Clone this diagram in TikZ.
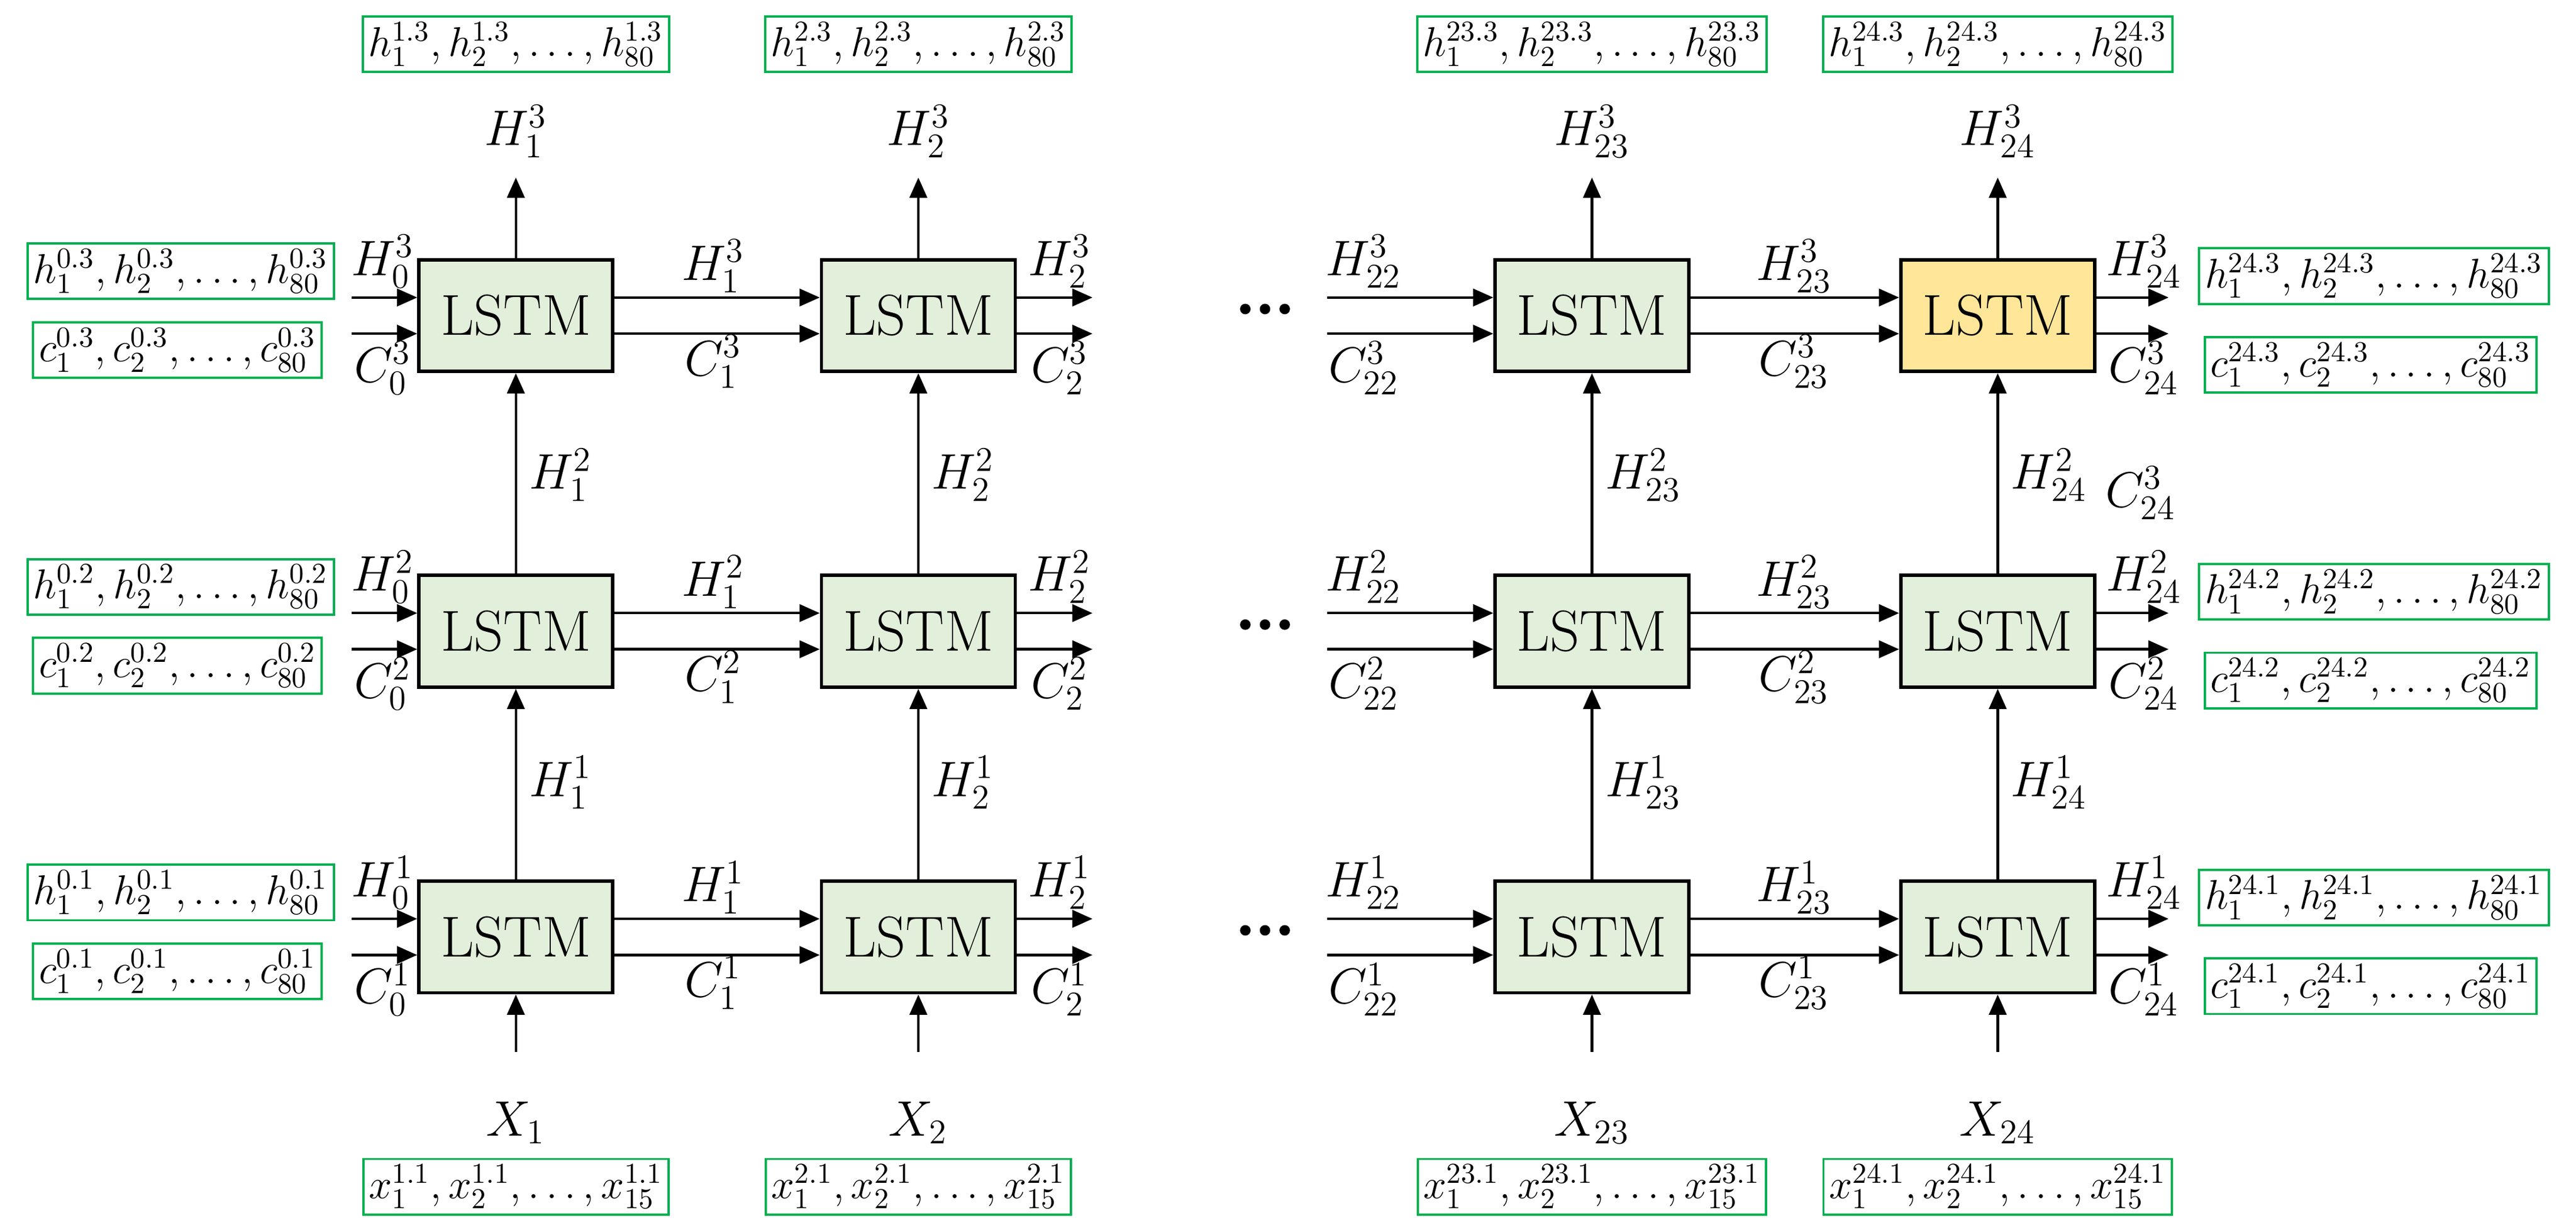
\documentclass[tikz,border=0pt]{standalone}
\usetikzlibrary{arrows.meta}
\definecolor{bfill}{HTML}{E2EFDA}
\definecolor{yfill}{HTML}{FFE699}
\definecolor{gb}{HTML}{00B050}
\begin{document}
\begin{tikzpicture}[x=0.02cm,y=-0.02cm,
 lstm/.style={draw,line width=1.2pt,fill=bfill,minimum width=2.36cm,minimum height=1.36cm,inner sep=0pt,font=\fontsize{20}{22}\selectfont},
 gbox/.style={draw=gb,line width=0.8pt,inner sep=2pt,font=\fontsize{14}{16}\selectfont},
 lab/.style={font=\fontsize{18}{20}\selectfont,inner sep=1pt},
 arr/.style={-{Triangle[length=7pt,width=6pt]},line width=0.9pt}]
\useasboundingbox (0,0) rectangle (1568,748);
% boxes
\foreach \c/\x in {1/314,2/559,23/969,24/1216}{
 \foreach \r/\y in {3/192,2/384,1/570}{
  \node[lstm] (b\c-\r) at (\x,\y) {LSTM};
 }}
\node[lstm,fill=yfill] at (b24-3) {LSTM};
\foreach \c/\x in {1/314,2/559,23/969,24/1216}{
 \coordinate (top\c) at (\x,108);
 \coordinate (bot\c) at (\x,640);
 \node[lab] (X\c) at (\x,683) {$X_{\c}$};
 \node[lab] (T\c) at (\x,80) {$H^3_{\c}$};
 \draw[arr] (b\c-3.north) -- (top\c);
 \draw[arr] (b\c-2.north) -- (b\c-3.south);
 \draw[arr] (b\c-1.north) -- (b\c-2.south);
 \draw[arr] (bot\c) -- (b\c-1.south);
 \node[lab,anchor=west] at (\x+6,289) {$H^2_{\c}$};
 \node[lab,anchor=west] at (\x+6,476) {$H^1_{\c}$};
}
\node[lab] at (1303,300) {$C^3_{24}$};
\foreach \r/\y in {3/192,2/384,1/570}{
 \coordinate (li\r h) at (214,\y-11); \coordinate (li\r c) at (214,\y+11);
 \draw[arr] (li\r h) -- (b1-\r.west |- li\r h);
 \draw[arr] (li\r c) -- (b1-\r.west |- li\r c);
 \node[lab] at (233,\y-33) {$H^\r_0$};
 \node[lab] at (233,\y+32) {$C^\r_0$};
 \draw[arr] (b1-\r.east |- li\r h) -- (b2-\r.west |- li\r h);
 \draw[arr] (b1-\r.east |- li\r c) -- (b2-\r.west |- li\r c);
 \node[lab] at (434,\y-30) {$H^\r_1$};
 \node[lab] at (434,\y+28) {$C^\r_1$};
 \coordinate (o2\r h) at (665,\y-11); \coordinate (o2\r c) at (665,\y+11);
 \draw[arr] (b2-\r.east |- o2\r h) -- (o2\r h);
 \draw[arr] (b2-\r.east |- o2\r c) -- (o2\r c);
 \node[lab] at (645,\y-33) {$H^\r_2$};
 \node[lab] at (645,\y+32) {$C^\r_2$};
 \foreach \d in {-12,0,12}{\fill (770+\d,\y-4) circle (3.2);}
 \coordinate (i23\r h) at (808,\y-11); \coordinate (i23\r c) at (808,\y+11);
 \draw[arr] (i23\r h) -- (b23-\r.west |- i23\r h);
 \draw[arr] (i23\r c) -- (b23-\r.west |- i23\r c);
 \node[lab] at (830,\y-33) {$H^\r_{22}$};
 \node[lab] at (830,\y+32) {$C^\r_{22}$};
 \draw[arr] (b23-\r.east |- i23\r h) -- (b24-\r.west |- i23\r h);
 \draw[arr] (b23-\r.east |- i23\r c) -- (b24-\r.west |- i23\r c);
 \node[lab] at (1092,\y-30) {$H^\r_{23}$};
 \node[lab] at (1092,\y+28) {$C^\r_{23}$};
 \coordinate (o24\r h) at (1320,\y-11); \coordinate (o24\r c) at (1320,\y+11);
 \draw[arr] (b24-\r.east |- o24\r h) -- (o24\r h);
 \draw[arr] (b24-\r.east |- o24\r c) -- (o24\r c);
 \node[lab] at (1305,\y-33) {$H^\r_{24}$};
 \node[lab] at (1305,\y+32) {$C^\r_{24}$};
 \node[gbox] (lh\r) at (110,\y-27) {$h_1^{0.\r},h_2^{0.\r},\dots,h_{80}^{0.\r}$};
 \node[gbox] (lc\r) at (108,\y+21) {$c_1^{0.\r},c_2^{0.\r},\dots,c_{80}^{0.\r}$};
 \node[gbox] (rh\r) at (1445,\y-24) {$h_1^{24.\r},h_2^{24.\r},\dots,h_{80}^{24.\r}$};
 \node[gbox] (rc\r) at (1443,\y+30) {$c_1^{24.\r},c_2^{24.\r},\dots,c_{80}^{24.\r}$};
}
\foreach \c/\x in {1/314,2/559,23/969,24/1216}{
 \node[gbox] (tg\c) at (\x,27) {$h_1^{\c.3},h_2^{\c.3},\dots,h_{80}^{\c.3}$};
 \node[gbox] (bg\c) at (\x,722) {$x_1^{\c.1},x_2^{\c.1},\dots,x_{15}^{\c.1}$};
}
\end{tikzpicture}
\end{document}
